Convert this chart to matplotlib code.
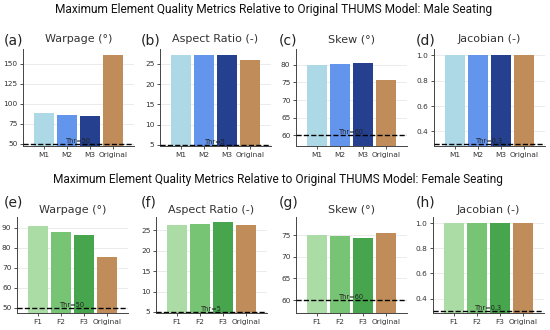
import numpy as np
import matplotlib
matplotlib.use("Agg")
import matplotlib.pyplot as plt
import matplotlib.transforms as mtransforms

# data
metrics = ["Warpage (°)", "Aspect Ratio (-)", "Skew (°)", "Jacobian (-)"]
thresholds = [50, 5, 60, 0.3]
thr_labels = ["Thr=50", "Thr=5", "Thr=60", "Thr=0.3"]

male_labels = ["M1", "M2", "M3", "Original"]
male_warpage = [88.0, 86.0, 84.7, 160.3]
male_aspect = [27.3, 27.3, 27.1, 26.0]
male_skew = [79.9, 80.2, 80.4, 75.6]
male_jacobian = [1.0, 1.0, 1.0, 1.0]

female_labels = ["F1", "F2", "F3", "Original"]
female_warpage = [90.7, 87.6, 86.1, 75.1]
female_aspect = [26.3, 26.6, 26.9, 26.2]
female_skew = [75.0, 74.7, 74.3, 75.4]
female_jacobian = [1.0, 1.0, 1.0, 1.0]

male_colors = ["#add8e6", "#6495ed", "#24408e", "#c08d5a"]
female_colors = ["#acdca5", "#77c474", "#47a64d", "#c08d5a"]

W, H = 550, 330
fig = plt.figure(figsize=(W / 100, H / 100), dpi=100)


def px_axes(left, top, width, height):
    return fig.add_axes([left / W, 1 - (top + height) / H, width / W, height / H])


def draw_row(lefts, top, height, labels, series, colors, letters, title_pad, letter_x, letter_y):
    for i, (left, vals) in enumerate(zip(lefts, series)):
        ax = px_axes(left, top, 111, height)
        x = np.arange(len(labels))
        ax.bar(x, vals, width=0.85, color=colors, zorder=2)
        thr = thresholds[i]
        ax.axhline(thr, color="black", ls="--", lw=1.0, zorder=3)
        trans = mtransforms.blended_transform_factory(ax.transAxes, ax.transData)
        ax.text(0.5, thr, thr_labels[i], transform=trans, ha="center", va="bottom",
                fontsize=4.8, color="#222222", zorder=4)
        lo = min(thr, min(vals)) * 0.95
        hi = max(vals) * 1.05
        ax.set_ylim(lo, hi)
        ax.set_xlim(-0.9, 3.92)
        ax.set_xticks(x)
        ax.set_xticklabels(labels)
        ax.tick_params(labelsize=5.3, colors="#333333", length=2, width=0.6, pad=2)
        ax.grid(axis="y", color="#e8e8e8", lw=0.6, zorder=0)
        for s in ["top", "right"]:
            ax.spines[s].set_visible(False)
        for s in ["left", "bottom"]:
            ax.spines[s].set_color("#444444")
            ax.spines[s].set_linewidth(0.7)
        ax.set_title(metrics[i], fontsize=8, color="#333333", pad=title_pad)
        fig.text(letter_x[i] / W, 1 - letter_y / H, letters[i], fontsize=10,
                 ha="left", va="center", color="#222222")


draw_row([23, 160, 296, 434], 49, 97, male_labels,
         [male_warpage, male_aspect, male_skew, male_jacobian], male_colors,
         ["(a)", "(b)", "(c)", "(d)"], 5, [4, 141, 279, 416], 41)
draw_row([17, 156, 296, 433], 217, 96, female_labels,
         [female_warpage, female_aspect, female_skew, female_jacobian], female_colors,
         ["(e)", "(f)", "(g)", "(h)"], 3, [4, 141, 279, 416], 203)

fig.text(0.497, 1 - 10 / H, "Maximum Element Quality Metrics Relative to Original THUMS Model: Male Seating",
         ha="center", va="center", fontsize=8.6, family="Roboto", color="#111111")
fig.text(0.505, 1 - 180 / H, "Maximum Element Quality Metrics Relative to Original THUMS Model: Female Seating",
         ha="center", va="center", fontsize=8.6, family="Roboto", color="#111111")

fig.savefig("out.png", dpi=100)
